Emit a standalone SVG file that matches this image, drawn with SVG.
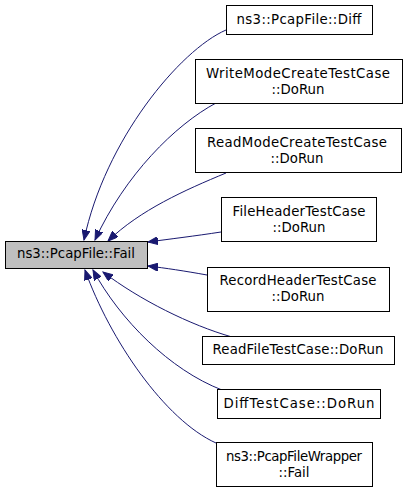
<svg xmlns="http://www.w3.org/2000/svg" width="408" height="493" viewBox="0 0 408 493">
<style>
.box{fill:#ffffff;stroke:#000000;stroke-width:1}
.main{fill:#bfbfbf;stroke:#000000;stroke-width:1}
text{font-family:"DejaVu Sans","Noto Sans",sans-serif;font-size:13.3px;fill:#000000;text-anchor:middle}
.edge{fill:none;stroke:#191970;stroke-width:1}
</style>
<defs>
<marker id="arr" markerWidth="11" markerHeight="8" refX="10" refY="4" orient="auto" markerUnits="userSpaceOnUse">
<polygon points="0,0 10,4 0,8" fill="#191970" stroke="#191970"/>
</marker>
</defs>
<rect width="408" height="493" fill="#ffffff"/>
<g id="connectors">
<path class="edge" marker-end="url(#arr)" d="M226,30 C180,50 105,140 84,240"/>
<path class="edge" marker-end="url(#arr)" d="M216,103 C175,125 125,175 95,240"/>
<path class="edge" marker-end="url(#arr)" d="M226,173 C185,190 140,210 108,241"/>
<path class="edge" marker-end="url(#arr)" d="M221,232 C195,236 170,239 148,242"/>
<path class="edge" marker-end="url(#arr)" d="M207,275 C185,271 165,268 148,266"/>
<path class="edge" marker-end="url(#arr)" d="M232,337 C190,325 140,300 103,272"/>
<path class="edge" marker-end="url(#arr)" d="M222,390 C170,370 120,320 93,270"/>
<path class="edge" marker-end="url(#arr)" d="M216,443 C165,420 110,340 85,270"/>
</g>
<g id="node-main">
<rect class="main" x="5.5" y="241.5" width="142" height="27"/>
<text x="76" y="258" textLength="118" lengthAdjust="spacing">ns3::PcapFile::Fail</text>
</g>
<g id="node-diff">
<rect class="box" x="226.5" y="5.5" width="146" height="29"/>
<text x="299" y="24" textLength="125" lengthAdjust="spacing">ns3::PcapFile::Diff</text>
</g>
<g id="node-writemode">
<rect class="box" x="195.5" y="59.5" width="207" height="44"/>
<text x="298" y="78" textLength="184" lengthAdjust="spacing">WriteModeCreateTestCase</text>
<text x="298" y="94">::DoRun</text>
</g>
<g id="node-readmode">
<rect class="box" x="195.5" y="128.5" width="206" height="44"/>
<text x="297" y="147" textLength="180" lengthAdjust="spacing">ReadModeCreateTestCase</text>
<text x="297" y="163">::DoRun</text>
</g>
<g id="node-fileheader">
<rect class="box" x="221.5" y="197.5" width="155" height="44"/>
<text x="299" y="216" textLength="133" lengthAdjust="spacing">FileHeaderTestCase</text>
<text x="299" y="232">::DoRun</text>
</g>
<g id="node-recordheader">
<rect class="box" x="207.5" y="267.5" width="182" height="44"/>
<text x="298" y="285" textLength="157" lengthAdjust="spacing">RecordHeaderTestCase</text>
<text x="298" y="301">::DoRun</text>
</g>
<g id="node-readfile">
<rect class="box" x="202.5" y="336.5" width="192" height="28"/>
<text x="298" y="354" textLength="171" lengthAdjust="spacing">ReadFileTestCase::DoRun</text>
</g>
<g id="node-difftestcase">
<rect class="box" x="217.5" y="389.5" width="163" height="29"/>
<text x="299" y="408" textLength="151" lengthAdjust="spacing">DiffTestCase::DoRun</text>
</g>
<g id="node-wrapper">
<rect class="box" x="216.5" y="442.5" width="156" height="44"/>
<text x="294" y="461" textLength="136" lengthAdjust="spacing">ns3::PcapFileWrapper</text>
<text x="294" y="477">::Fail</text>
</g>
</svg>
